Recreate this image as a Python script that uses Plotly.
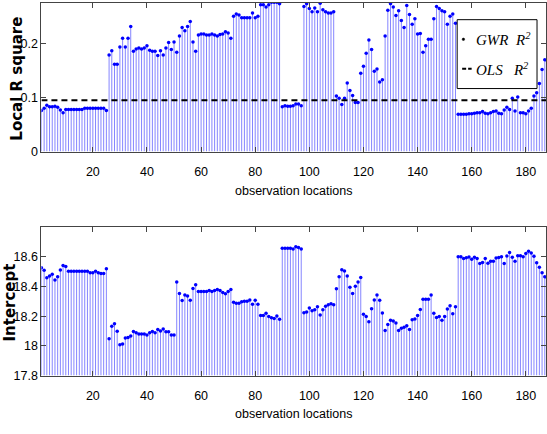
import plotly.graph_objects as go

# ---------------- data ----------------
locations = list(range(1, 188))

local_r2 = [
    0.076, 0.080, 0.086, 0.083, 0.083, 0.084, 0.082, 0.077, 0.072, 0.078,
    0.078, 0.078, 0.078, 0.078, 0.078, 0.078, 0.080, 0.080, 0.080, 0.080,
    0.080, 0.080, 0.080, 0.080, 0.076, 0.179, 0.187, 0.162, 0.162, 0.194,
    0.210, 0.194, 0.210, 0.232, 0.186, 0.190, 0.192, 0.190, 0.192, 0.196,
    0.188, 0.186, 0.186, 0.178, 0.187, 0.179, 0.192, 0.202, 0.189, 0.203,
    0.184, 0.214, 0.230, 0.224, 0.232, 0.241, 0.203, 0.186, 0.216, 0.218,
    0.218, 0.216, 0.216, 0.218, 0.216, 0.214, 0.217, 0.218, 0.222, 0.220,
    0.210, 0.251, 0.255, 0.253, 0.248, 0.248, 0.248, 0.248, 0.257, 0.248,
    0.251, 0.272, 0.272, 0.268, 0.272, 0.277, 0.277, 0.277, 0.274, 0.083,
    0.085, 0.084, 0.084, 0.085, 0.088, 0.088, 0.085, 0.269, 0.274, 0.265,
    0.259, 0.266, 0.259, 0.275, 0.263, 0.259, 0.257, 0.257, 0.259, 0.103,
    0.099, 0.087, 0.099, 0.127, 0.113, 0.104, 0.091, 0.091, 0.145, 0.158,
    0.182, 0.207, 0.189, 0.149, 0.153, 0.129, 0.133, 0.214, 0.262, 0.274,
    0.268, 0.252, 0.261, 0.243, 0.230, 0.271, 0.254, 0.236, 0.246, 0.218,
    0.219, 0.184, 0.196, 0.208, 0.208, 0.246, 0.269, 0.265, 0.261, 0.259,
    0.236, 0.251, 0.255, 0.238, 0.069, 0.069, 0.069, 0.069, 0.070, 0.070,
    0.071, 0.072, 0.072, 0.074, 0.071, 0.070, 0.072, 0.074, 0.075, 0.071,
    0.070, 0.077, 0.082, 0.078, 0.099, 0.075, 0.101, 0.072, 0.072, 0.070,
    0.075, 0.080, 0.103, 0.109, 0.126, 0.152, 0.170,
]

ols_r2 = 0.095

intercept = [
    18.527, 18.510, 18.459, 18.472, 18.483, 18.444, 18.466, 18.512, 18.543, 18.536,
    18.503, 18.503, 18.503, 18.503, 18.503, 18.503, 18.503, 18.503, 18.494, 18.494,
    18.503, 18.494, 18.488, 18.488, 18.520, 18.048, 18.132, 18.149, 18.099, 18.007,
    18.013, 18.053, 18.057, 18.066, 18.097, 18.088, 18.081, 18.081, 18.081, 18.073,
    18.088, 18.097, 18.088, 18.110, 18.101, 18.114, 18.095, 18.095, 18.073, 18.073,
    18.431, 18.353, 18.306, 18.343, 18.336, 18.308, 18.387, 18.413, 18.367, 18.367,
    18.367, 18.367, 18.373, 18.367, 18.373, 18.380, 18.373, 18.360, 18.351, 18.367,
    18.380, 18.295, 18.288, 18.288, 18.297, 18.301, 18.301, 18.310, 18.281, 18.308,
    18.281, 18.205, 18.205, 18.220, 18.198, 18.189, 18.185, 18.202, 18.180, 18.659,
    18.659, 18.659, 18.659, 18.653, 18.668, 18.664, 18.653, 18.224, 18.228, 18.255,
    18.237, 18.244, 18.264, 18.209, 18.244, 18.268, 18.277, 18.284, 18.277, 18.385,
    18.466, 18.514, 18.505, 18.472, 18.395, 18.353, 18.402, 18.431, 18.462, 18.213,
    18.198, 18.163, 18.251, 18.310, 18.343, 18.308, 18.222, 18.103, 18.145, 18.173,
    18.167, 18.154, 18.103, 18.119, 18.125, 18.136, 18.110, 18.176, 18.182, 18.205,
    18.246, 18.314, 18.314, 18.314, 18.343, 18.220, 18.192, 18.198, 18.173, 18.198,
    18.248, 18.270, 18.216, 18.264, 18.602, 18.602, 18.590, 18.594, 18.600, 18.585,
    18.598, 18.590, 18.556, 18.563, 18.590, 18.558, 18.570, 18.570, 18.592, 18.596,
    18.602, 18.556, 18.606, 18.630, 18.598, 18.570, 18.608, 18.608, 18.602, 18.623,
    18.638, 18.627, 18.604, 18.560, 18.530, 18.494, 18.466,
]

x_ticks = [20, 40, 60, 80, 100, 120, 140, 160, 180]
r2_ticks = [0, 0.1, 0.2]
r2_ticktext = ["0", "0.1", "0.2"]
int_ticks = [17.8, 18.0, 18.2, 18.4, 18.6]
int_ticktext = ["17.8", "18", "18.2", "18.4", "18.6"]
x_title = "observation locations"
r2_title = "Local R square"
int_title = "Intercept"

# axis limits
X_MIN, X_MAX = 1, 187.45
R2_MIN, R2_MAX = 0, 0.2755
INT_MIN, INT_MAX = 17.8, 18.8

# ---------------- figure ----------------
W, H = 547, 434
STEM = "#8585ff"
DOT = "#0000ff"
AX = "#444444"
SANS = "Liberation Sans, Arial, sans-serif"
TICKFONT = dict(family=SANS, size=12.5, color="#000000")


def stems(xv, yv, base):
    xs, ys = [], []
    for a, b in zip(xv, yv):
        xs += [a, a, None]
        ys += [base, b, None]
    return xs, ys


fig = go.Figure()

sx, sy = stems(locations, local_r2, R2_MIN)
fig.add_trace(go.Scatter(x=sx, y=sy, mode="lines", line=dict(color=STEM, width=1),
                         xaxis="x", yaxis="y", showlegend=False, hoverinfo="skip"))
fig.add_trace(go.Scatter(x=locations, y=local_r2, mode="markers",
                         marker=dict(color=DOT, size=3.5), name="GWR R2",
                         xaxis="x", yaxis="y", showlegend=False))
fig.add_trace(go.Scatter(x=[X_MIN, X_MAX + 1], y=[ols_r2, ols_r2], mode="lines",
                         line=dict(color="#000000", width=2, dash="6px,4px"),
                         name="OLS R2", xaxis="x", yaxis="y", showlegend=False))

sx2, sy2 = stems(locations, intercept, INT_MIN)
fig.add_trace(go.Scatter(x=sx2, y=sy2, mode="lines", line=dict(color=STEM, width=1),
                         xaxis="x2", yaxis="y2", showlegend=False, hoverinfo="skip"))
fig.add_trace(go.Scatter(x=locations, y=intercept, mode="markers",
                         marker=dict(color=DOT, size=3.5), name="Intercept",
                         xaxis="x2", yaxis="y2", showlegend=False))

xl = 41.5 / W
top_dom = [1 - 154 / H, 1 - 3 / H]
bot_dom = [1 - 381.7 / H, 1 - 231 / H]

common_x = dict(range=[X_MIN, X_MAX], tickvals=x_ticks, ticks="inside", ticklen=5,
                tickcolor=AX, showline=True, linecolor=AX, linewidth=1, mirror="ticks",
                showgrid=False, zeroline=False, tickfont=TICKFONT, domain=[xl, 1],
                ticklabelstandoff=8)
common_y = dict(ticks="inside", ticklen=5, tickcolor=AX, showline=True, linecolor=AX,
                linewidth=1, mirror="ticks", showgrid=False, zeroline=False,
                tickfont=TICKFONT)

fig.update_layout(
    width=W, height=H, autosize=False,
    margin=dict(l=0, r=0, t=0, b=0, pad=0),
    paper_bgcolor="white", plot_bgcolor="white",
    xaxis=dict(common_x, anchor="y"),
    xaxis2=dict(common_x, anchor="y2"),
    yaxis=dict(common_y, range=[R2_MIN, R2_MAX], tickvals=r2_ticks,
               ticktext=r2_ticktext, domain=top_dom, anchor="x"),
    yaxis2=dict(common_y, range=[INT_MIN, INT_MAX], tickvals=int_ticks,
                ticktext=int_ticktext, domain=bot_dom, anchor="x2"),
)

TITLEFONT = dict(family="DejaVu Sans", size=15, color="#000000")
XT_FONT = dict(family=SANS, size=12.5, color="#000000")
ann = [
    dict(text=x_title, x=(xl + 1) / 2, y=1 - 194 / H, xref="paper", yref="paper",
         showarrow=False, font=XT_FONT, xanchor="center", yanchor="middle"),
    dict(text=x_title, x=(xl + 1) / 2, y=1 - 421 / H, xref="paper", yref="paper",
         showarrow=False, font=XT_FONT, xanchor="center", yanchor="middle"),
    dict(text="<b>" + r2_title + "</b>", x=17 / W, y=1 - 80 / H, xref="paper",
         yref="paper", showarrow=False, textangle=-90, font=TITLEFONT,
         xanchor="center", yanchor="middle"),
    dict(text="<b>" + int_title + "</b>", x=10.5 / W, y=1 - 307 / H, xref="paper",
         yref="paper", showarrow=False, textangle=-90, font=TITLEFONT,
         xanchor="center", yanchor="middle"),
]

# legend box (top panel)
LEGFONT = dict(family="Liberation Serif, DejaVu Serif", size=15, color="#000000")
ann += [
    dict(text="<i>GWR  R<sup>2</sup></i>", x=475 / W, y=1 - 40 / H, xref="paper",
         yref="paper", showarrow=False, font=LEGFONT, xanchor="left", yanchor="middle"),
    dict(text="<i>OLS   R<sup>2</sup></i>", x=475 / W, y=1 - 70 / H, xref="paper",
         yref="paper", showarrow=False, font=LEGFONT, xanchor="left", yanchor="middle"),
]
shapes = [
    dict(type="rect", xref="paper", yref="paper", x0=458 / W, x1=538 / W,
         y0=1 - 90 / H, y1=1 - 20 / H, line=dict(color="#000000", width=1),
         fillcolor="white", layer="above"),
    dict(type="circle", xref="paper", yref="paper", x0=463 / W, x1=465.5 / W,
         y0=1 - 41.2 / H, y1=1 - 38.7 / H, line=dict(color="#000000", width=0.5),
         fillcolor="#000000", layer="above"),
    dict(type="line", xref="paper", yref="paper", x0=463 / W, x1=472.5 / W,
         y0=1 - 70 / H, y1=1 - 70 / H, line=dict(color="#000000", width=2, dash="4px,2px"),
         layer="above"),
]
fig.update_layout(annotations=ann, shapes=shapes)

fig.write_html(
    "out.html",
    config={"displayModeBar": False},
    post_script="document.body.style.margin='0';document.body.style.padding='0';"
                "document.body.style.overflow='hidden';",
)
